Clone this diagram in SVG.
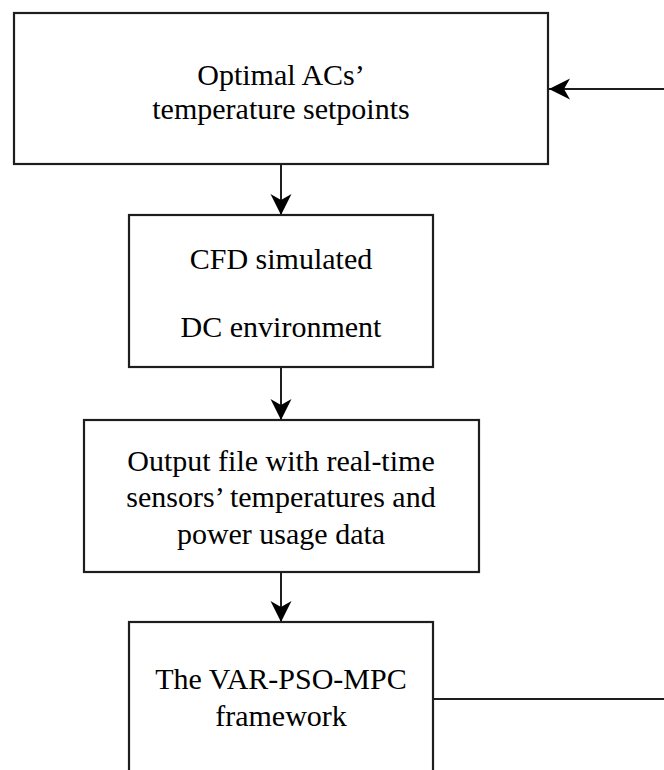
<svg xmlns="http://www.w3.org/2000/svg" width="664" height="770" viewBox="0 0 664 770">
  <style>
    .box { fill: #ffffff; stroke: #1e1e1e; stroke-width: 2.2; }
    .label { font-family: "Liberation Serif", "Times New Roman", serif; font-size: 30px; fill: #000000; text-anchor: middle; }
    .edge { fill: none; stroke: #1e1e1e; stroke-width: 2; }
  </style>
  <defs>
    <marker id="arrow" markerUnits="userSpaceOnUse" markerWidth="22" markerHeight="22" viewBox="-22 -11 22 22" refX="0" refY="0" orient="auto">
      <path d="M0,0 L-21,-10.5 L-15,0 L-21,10.5 Z" fill="#000000"/>
    </marker>
  </defs>
  <rect width="664" height="770" fill="#ffffff"/>

  <g id="connectors">
    <line class="edge" x1="664" y1="89" x2="549" y2="89" marker-end="url(#arrow)"/>
    <line class="edge" x1="281" y1="164" x2="281" y2="215" marker-end="url(#arrow)"/>
    <line class="edge" x1="281" y1="367" x2="281" y2="420" marker-end="url(#arrow)"/>
    <line class="edge" x1="281" y1="572" x2="281" y2="622" marker-end="url(#arrow)"/>
    <line class="edge" x1="433" y1="699" x2="664" y2="699"/>
  </g>

  <g id="setpoints">
    <rect class="box" x="14" y="13" width="534" height="151"/>
    <text class="label" x="281" y="85">Optimal ACs’</text>
    <text class="label" x="281" y="119">temperature setpoints</text>
  </g>

  <g id="cfd">
    <rect class="box" x="129" y="215" width="304" height="152"/>
    <text class="label" x="281" y="269">CFD simulated</text>
    <text class="label" x="281" y="337">DC environment</text>
  </g>

  <g id="output-file">
    <rect class="box" x="84" y="420" width="395" height="152"/>
    <text class="label" x="281" y="471">Output file with real-time</text>
    <text class="label" x="281" y="507">sensors’ temperatures and</text>
    <text class="label" x="281" y="544">power usage data</text>
  </g>

  <g id="framework">
    <rect class="box" x="129" y="622" width="304" height="170"/>
    <text class="label" x="281" y="689">The VAR-PSO-MPC</text>
    <text class="label" x="281" y="726">framework</text>
  </g>
</svg>
